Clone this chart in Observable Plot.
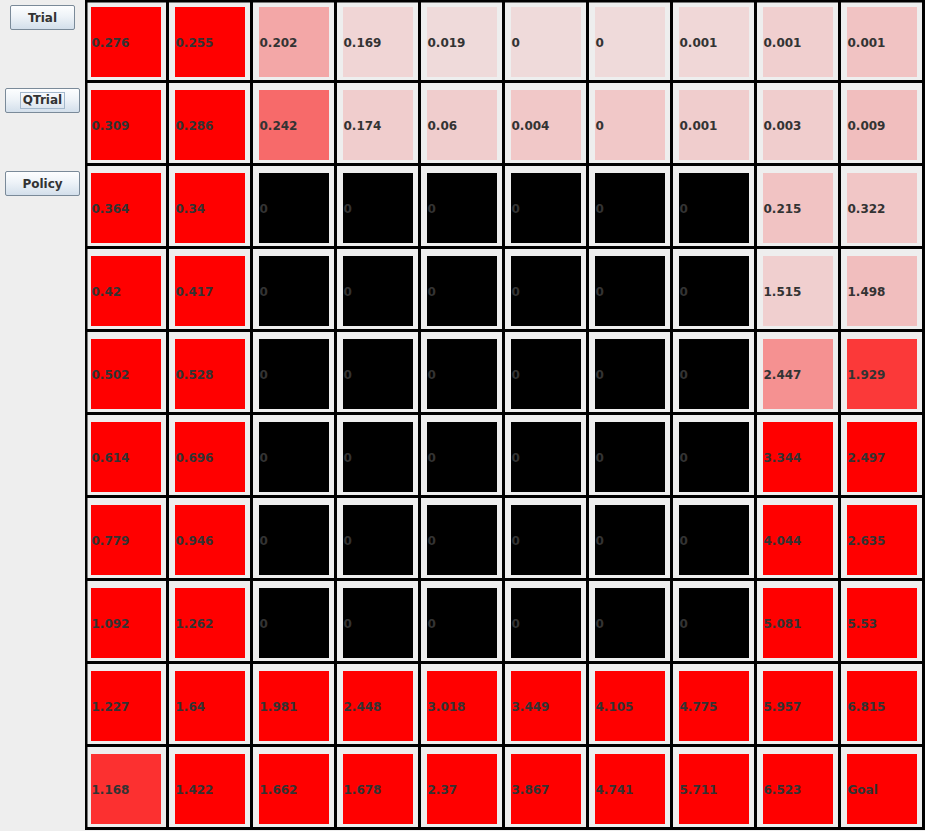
<!DOCTYPE html>
<html>
<head>
<meta charset="utf-8">
<script src="https://cdn.jsdelivr.net/npm/d3@7"></script>
<script src="https://cdn.jsdelivr.net/npm/@observablehq/plot@0.6"></script>
<style>
  html, body { margin: 0; padding: 0; background: #eeeeee; width: 925px; height: 831px; overflow: hidden; }
  #panel { position: absolute; left: 0; top: 0; width: 85px; height: 831px; background: #eeeeee; }
  .btn { position: absolute; box-sizing: border-box; border: 1px solid #7a8a99; border-radius: 2px;
         background: linear-gradient(to bottom, #fdfeff 0%, #eef3f8 45%, #d3dfeb 100%);
         font: bold 12px "DejaVu Sans", sans-serif; color: #333; display: flex; align-items: center; justify-content: center; }
  .focus { border: 1px solid #a3b8cc; padding: 1px 2px; line-height: 13px; }
  #chart { position: absolute; left: 85px; top: 0; }
</style>
</head>
<body>
<div id="panel">
  <div class="btn" style="left:10px;top:5px;width:65px;height:25px;">Trial</div>
  <div class="btn" style="left:5px;top:88px;width:75px;height:25px;"><span class="focus">QTrial</span></div>
  <div class="btn" style="left:5px;top:171px;width:75px;height:25px;">Policy</div>
</div>
<div id="chart"></div>
<script>
// Displayed values per grid row (top to bottom)
const row0 = ["0.276","0.255","0.202","0.169","0.019","0","0","0.001","0.001","0.001"];
const row1 = ["0.309","0.286","0.242","0.174","0.06","0.004","0","0.001","0.003","0.009"];
const row2 = ["0.364","0.34","0","0","0","0","0","0","0.215","0.322"];
const row3 = ["0.42","0.417","0","0","0","0","0","0","1.515","1.498"];
const row4 = ["0.502","0.528","0","0","0","0","0","0","2.447","1.929"];
const row5 = ["0.614","0.696","0","0","0","0","0","0","3.344","2.497"];
const row6 = ["0.779","0.946","0","0","0","0","0","0","4.044","2.635"];
const row7 = ["1.092","1.262","0","0","0","0","0","0","5.081","5.53"];
const row8 = ["1.227","1.64","1.981","2.448","3.018","3.449","4.105","4.775","5.957","6.815"];
const row9 = ["1.168","1.422","1.662","1.678","2.37","3.867","4.741","5.711","6.523","Goal"];
const labels = [row0,row1,row2,row3,row4,row5,row6,row7,row8,row9];

// Shading intensity (0..1) of each cell; null = wall
const int0 = [1,1,0.30,0.105,0.085,0.085,0.085,0.095,0.13,0.18];
const int1 = [1,1,0.555,0.14,0.14,0.16,0.16,0.14,0.14,0.20];
const int2 = [1,1,null,null,null,null,null,null,0.18,0.17];
const int3 = [1,1,null,null,null,null,null,null,0.13,0.20];
const int4 = [1,1,null,null,null,null,null,null,0.39,0.76];
const int5 = [1,1,null,null,null,null,null,null,1,1];
const int6 = [1,1,null,null,null,null,null,null,1,1];
const int7 = [1,1,null,null,null,null,null,null,1,1];
const int8 = [1,1,1,1,1,1,1,1,1,1];
const int9 = [0.8,1,1,1,1,1,1,1,1,1];
const intensity = [int0,int1,int2,int3,int4,int5,int6,int7,int8,int9];

const rows = d3.range(10);
const cols = d3.range(10);

const cells = [];
for (const r of rows) for (const c of cols) {
  cells.push({row: r, col: c, label: labels[r][c], alpha: intensity[r][c], wall: intensity[r][c] === null});
}
const open = cells.filter(d => !d.wall);
const walls = cells.filter(d => d.wall);

const sq = {insetLeft: 6, insetRight: 8, insetTop: 7, insetBottom: 6};

const chart = Plot.plot({
  width: 840,
  height: 830,
  margin: 0,
  style: {background: "black", fontFamily: "DejaVu Sans"},
  x: {type: "band", domain: cols, range: [0, 840], padding: 0, axis: null},
  y: {type: "band", domain: rows, range: [0, 830], padding: 0, axis: null},
  color: {type: "linear", domain: [0, 1], range: ["#eeeeee", "#ff0000"], interpolate: "rgb"},
  marks: [
    Plot.cell(cells, {x: "col", y: "row", fill: "#eeeeee", insetRight: 3, insetBottom: 3}),
    Plot.cell(walls, {x: "col", y: "row", fill: "black", ...sq}),
    Plot.cell(open, {x: "col", y: "row", fill: "alpha", ...sq}),
    Plot.text(cells, {x: "col", y: "row", text: "label", textAnchor: "start", dx: -36, dy: 1.5,
      fill: "#333333", fontSize: 12, fontWeight: "bold", fontFamily: "DejaVu Sans"}),
    Plot.frame({stroke: "black", strokeWidth: 4})
  ]
});
document.getElementById("chart").append(chart);
</script>
</body>
</html>
